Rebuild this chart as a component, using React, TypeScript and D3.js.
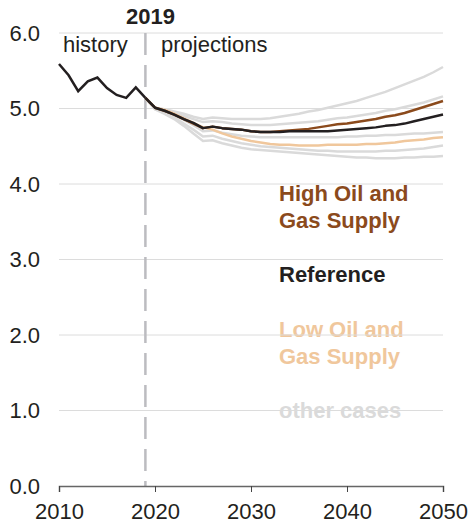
import React, { useRef, useEffect } from 'react';
import * as d3 from 'd3';

const historyYears = [2010, 2011, 2012, 2013, 2014, 2015, 2016, 2017, 2018, 2019];
const historyValues = [5.59, 5.44, 5.23, 5.36, 5.41, 5.27, 5.18, 5.14, 5.28, 5.14];

const projYears = d3.range(2019, 2051);

const reference = [5.14, 5.01, 4.97, 4.92, 4.86, 4.81, 4.74, 4.76, 4.74, 4.73, 4.72, 4.70, 4.69, 4.69, 4.69, 4.70,
  4.70, 4.70, 4.70, 4.70, 4.71, 4.72, 4.73, 4.74, 4.75, 4.77, 4.78, 4.80, 4.83, 4.86, 4.89, 4.92];
const highOilGas = [5.14, 5.01, 4.97, 4.92, 4.86, 4.80, 4.74, 4.76, 4.74, 4.73, 4.72, 4.70, 4.69, 4.69, 4.70, 4.71,
  4.72, 4.73, 4.75, 4.77, 4.79, 4.80, 4.82, 4.84, 4.86, 4.89, 4.91, 4.94, 4.98, 5.02, 5.06, 5.10];
const lowOilGas = [5.14, 5.01, 4.98, 4.93, 4.87, 4.81, 4.75, 4.72, 4.67, 4.63, 4.60, 4.57, 4.55, 4.53, 4.52, 4.52,
  4.51, 4.51, 4.51, 4.52, 4.52, 4.52, 4.52, 4.53, 4.53, 4.54, 4.55, 4.57, 4.58, 4.59, 4.61, 4.62];

const otherCases = [
  [5.14, 5.01, 4.99, 4.96, 4.93, 4.89, 4.86, 4.88, 4.87, 4.86, 4.86, 4.86, 4.86, 4.87, 4.89, 4.91,
    4.93, 4.96, 4.98, 5.01, 5.04, 5.07, 5.10, 5.14, 5.18, 5.22, 5.27, 5.32, 5.37, 5.42, 5.48, 5.55],
  [5.14, 5.01, 4.98, 4.94, 4.90, 4.86, 4.82, 4.83, 4.82, 4.80, 4.79, 4.78, 4.78, 4.78, 4.79, 4.80,
    4.81, 4.82, 4.83, 4.85, 4.87, 4.88, 4.90, 4.92, 4.94, 4.97, 4.99, 5.02, 5.05, 5.08, 5.12, 5.16],
  [5.14, 5.00, 4.96, 4.91, 4.85, 4.78, 4.70, 4.71, 4.68, 4.66, 4.64, 4.63, 4.62, 4.62, 4.62, 4.62,
    4.62, 4.62, 4.62, 4.62, 4.62, 4.63, 4.63, 4.64, 4.64, 4.65, 4.65, 4.66, 4.67, 4.67, 4.68, 4.69],
  [5.14, 4.99, 4.94, 4.88, 4.80, 4.72, 4.63, 4.64, 4.60, 4.57, 4.54, 4.52, 4.50, 4.49, 4.48, 4.47,
    4.46, 4.45, 4.44, 4.44, 4.43, 4.43, 4.43, 4.43, 4.43, 4.44, 4.44, 4.45, 4.46, 4.47, 4.49, 4.51],
  [5.14, 4.99, 4.93, 4.86, 4.77, 4.67, 4.57, 4.58, 4.54, 4.51, 4.48, 4.46, 4.45, 4.44, 4.43, 4.42,
    4.41, 4.40, 4.39, 4.38, 4.37, 4.36, 4.35, 4.35, 4.34, 4.34, 4.34, 4.35, 4.35, 4.36, 4.36, 4.37],
];

const yTicks = [0, 1, 2, 3, 4, 5, 6];
const xTicks = [2010, 2020, 2030, 2040, 2050];

const labels = [
  { lines: ['High Oil and', 'Gas Supply'], color: '#8b4a1c', y: 201 },
  { lines: ['Reference'], color: '#231f20', y: 282 },
  { lines: ['Low Oil and', 'Gas Supply'], color: '#f0c79c', y: 337 },
  { lines: ['other cases'], color: '#dadada', y: 418 },
];

const FONT = '"Liberation Sans", Arial, sans-serif';
const FS = 22;

const Chart = () => {
  const svgRef = useRef<SVGSVGElement>(null);

  useEffect(() => {
    // no page margin, no scrollbars
    document.body.style.margin = '0';
    document.body.style.overflow = 'hidden';

    const svg = d3.select(svgRef.current);
    svg.selectAll('*').remove();

    const margin = { top: 33, left: 59, right: 27, bottom: 41 };
    const width = 470;
    const height = 527;

    const x = d3.scaleLinear().domain([2010, 2050]).range([margin.left, width - margin.right]);
    const y = d3.scaleLinear().domain([0, 6]).range([height - margin.bottom, margin.top]);

    // series labels (drawn under the grid, as in the original)
    const lab = svg.append('g').attr('font-family', FONT).attr('font-weight', 'bold').attr('font-size', FS);
    labels.forEach(l => {
      l.lines.forEach((t, i) => {
        lab.append('text').attr('x', 279).attr('y', l.y + i * 27).attr('fill', l.color).text(t);
      });
    });

    // grid
    svg.append('g')
      .selectAll('line')
      .data(yTicks.filter(d => d > 0))
      .join('line')
      .attr('x1', x(2010)).attr('x2', x(2050))
      .attr('y1', d => y(d)).attr('y2', d => y(d))
      .attr('stroke', '#dcdcdc').attr('stroke-width', 1);

    // y labels
    svg.append('g')
      .attr('font-family', FONT).attr('font-size', FS).attr('fill', '#231f20')
      .selectAll('text')
      .data(yTicks)
      .join('text')
      .attr('x', 40).attr('y', d => y(d)).attr('dy', '0.35em').attr('text-anchor', 'end')
      .text(d => d.toFixed(1));

    // dashed 2019 line
    svg.append('line')
      .attr('x1', x(2019)).attr('x2', x(2019))
      .attr('y1', y(6)).attr('y2', y(0))
      .attr('stroke', '#bcbcc0').attr('stroke-width', 2.5)
      .attr('stroke-dasharray', '22,10');

    // x axis
    const xAxis = svg.append('g')
      .attr('transform', `translate(0,${y(0)})`)
      .call(d3.axisBottom(x).tickValues(xTicks).tickFormat(d3.format('d')).tickSize(6).tickPadding(11));
    xAxis.select('.domain').attr('stroke', '#666').attr('stroke-width', 1.5);
    xAxis.selectAll('.tick line').attr('stroke', '#444').attr('stroke-width', 1);
    xAxis.selectAll('.tick text').attr('font-family', FONT).attr('font-size', FS).attr('fill', '#231f20');

    const line = d3.line<number>().x((_, i) => x(projYears[i])).y(d => y(d));

    svg.append('g')
      .selectAll('path')
      .data(otherCases)
      .join('path')
      .attr('d', d => line(d))
      .attr('fill', 'none').attr('stroke', '#dadada').attr('stroke-width', 2.5);

    const main = [
      { v: lowOilGas, c: '#f0c79c' },
      { v: highOilGas, c: '#8b4a1c' },
      { v: reference, c: '#231f20' },
    ];
    main.forEach(s => {
      svg.append('path').attr('d', line(s.v)).attr('fill', 'none')
        .attr('stroke', s.c).attr('stroke-width', 2.5).attr('stroke-linejoin', 'round');
    });

    const histLine = d3.line<number>().x((_, i) => x(historyYears[i])).y(d => y(d));
    svg.append('path').attr('d', histLine(historyValues)).attr('fill', 'none')
      .attr('stroke', '#231f20').attr('stroke-width', 2.5).attr('stroke-linejoin', 'miter');

    // annotations
    const ann = svg.append('g').attr('font-family', FONT).attr('font-size', FS).attr('fill', '#231f20');
    ann.append('text').attr('x', x(2019) + 5).attr('y', 24).attr('text-anchor', 'middle')
      .attr('font-weight', 'bold').text('2019');
    ann.append('text').attr('x', 63).attr('y', 52).text('history');
    ann.append('text').attr('x', 161).attr('y', 52).text('projections');
  }, []);

  return <svg ref={svgRef} width={470} height={527} style={{ display: 'block' }} />;
};

export default function App() {
  return <Chart />;
}
